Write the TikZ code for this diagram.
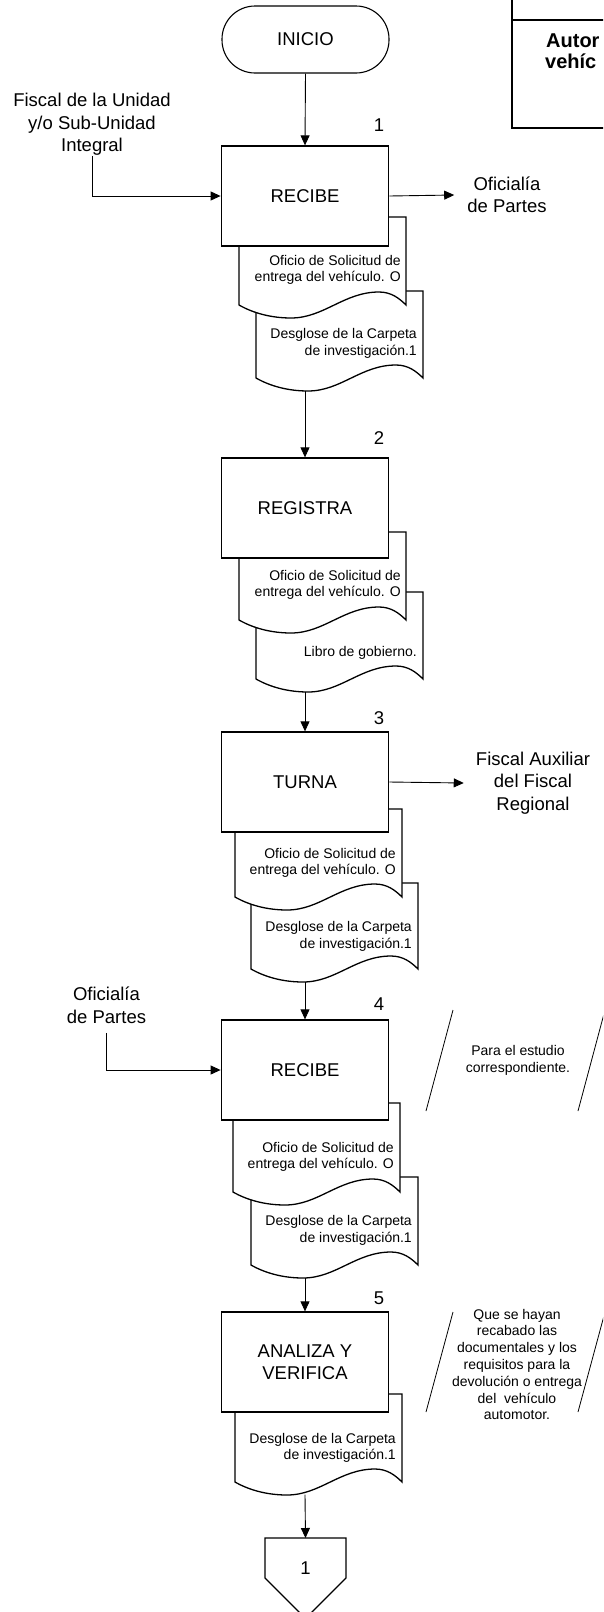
\documentclass[tikz,border=0pt]{standalone}
\usepackage{fontspec}
\setmainfont{Liberation Sans}
\usetikzlibrary{arrows.meta}

\tikzset{
  stepbox/.style={draw, line width=1.3pt, fill=white, minimum width=167.5pt,
    minimum height=100pt, inner sep=0pt, align=center,
    font=\fontsize{18.5}{22}\selectfont},
  terminal/.style={draw, line width=1.1pt, rounded corners=33pt, minimum width=167pt,
    minimum height=67pt, inner sep=0pt, font=\fontsize{18.5}{22}\selectfont},
  flow/.style={line width=0.9pt, -{Triangle[length=10pt,width=9pt]}},
  biglabel/.style={font=\fontsize{18.5}{22.5}\selectfont, align=center, inner sep=0pt},
  numlabel/.style={font=\fontsize{18.5}{22}\selectfont, inner sep=0pt},
  doctext/.style={font=\fontsize{14}{16.5}\selectfont, align=right, inner sep=0pt, anchor=east},
  notetext/.style={font=\fontsize{14}{16.8}\selectfont, align=center, inner sep=0pt},
  paper/.style={draw, line width=1.3pt, fill=white},
  slash/.style={line width=0.8pt},
  headtext/.style={font=\fontsize{20}{24}\selectfont\bfseries, inner sep=0pt, anchor=base west},
}

% document symbol: left x, top y, y of the bottom corners, name of the exit point
\newcommand{\docpaper}[4]{%
  \path[paper] (#1,#2) -- (#1+167,#2) -- (#1+167,#3)
    .. controls (#1+160,#3-7) and (#1+152,#3-13) .. (#1+140,#3-13)
    .. controls (#1+105,#3-13) and (#1+85,#3+13) .. (#1+52,#3+13)
    .. controls (#1+32,#3+13) and (#1+14,#3+8) .. (#1,#3) -- cycle;
  \coordinate (#4) at (305,#3+12.5);
}

\begin{document}
\begin{tikzpicture}[x=1pt,y=-1pt]
\useasboundingbox (0,0) rectangle (603,1612);
\clip (0,0) rectangle (603,1612);

% title block in the corner
\draw[line width=2pt] (512,-10) -- (512,128) -- (620,128);
\draw[line width=2pt] (512,19.5) -- (620,19.5);
\node[headtext] (head1) at (546,47) {Autor};
\node[headtext] (head2) at (545,68) {vehíc};

% start
\node[terminal] (inicio) at (305.5,39.5) {INICIO};

% step 1
\node[numlabel] (num1) at (379,125) {1};
\node[biglabel] (fiscal) at (92,124.5) {Fiscal de la Unidad\\y/o Sub-Unidad\\Integral};
\node[biglabel] (ofi1) at (507,195) {Oficialía\\de Partes};
\docpaper{256}{291}{378}{exit1}
\node[doctext] (t1b) at (417,343.5) {Desglose de la Carpeta\\de investigación.1};
\docpaper{239}{217}{305}{exit1a}
\node[doctext] (t1a) at (401,270) {Oficio de Solicitud de\\entrega del vehículo. O};
\node[stepbox] (b1) at (305,196) {RECIBE};

% step 2
\node[numlabel] (num2) at (379,438) {2};
\docpaper{256}{592}{679}{exit2}
\node[doctext] (t2b) at (417,653) {Libro de gobierno.};
\docpaper{239}{532}{620}{exit2a}
\node[doctext] (t2a) at (401,585) {Oficio de Solicitud de\\entrega del vehículo. O};
\node[stepbox] (b2) at (305,508) {REGISTRA};

% step 3
\node[numlabel] (num3) at (379,718) {3};
\node[biglabel] (aux) at (533,783) {Fiscal Auxiliar\\del Fiscal\\Regional};
\docpaper{251}{883}{969}{exit3}
\node[doctext] (t3b) at (412,936.5) {Desglose de la Carpeta\\de investigación.1};
\docpaper{235}{809}{897}{exit3a}
\node[doctext] (t3a) at (396,863) {Oficio de Solicitud de\\entrega del vehículo. O};
\node[stepbox] (b3) at (305,782) {TURNA};

% step 4
\node[numlabel] (num4) at (379,1004) {4};
\node[biglabel] (ofi4) at (106.5,1005.5) {Oficialía\\de Partes};
\docpaper{251}{1177}{1265}{exit4}
\node[doctext] (t4b) at (412,1230.5) {Desglose de la Carpeta\\de investigación.1};
\docpaper{233}{1103}{1192}{exit4a}
\node[doctext] (t4a) at (394,1157) {Oficio de Solicitud de\\entrega del vehículo. O};
\node[stepbox] (b4) at (305,1070) {RECIBE};
\draw[slash] (453,1010) -- (426,1111);
\draw[slash] (605,1010) -- (578,1111);
\node[notetext] (note4) at (518,1060.5) {Para el estudio\\correspondiente.};

% step 5
\node[numlabel] (num5) at (379,1298) {5};
\docpaper{235}{1394}{1482}{exit5}
\node[doctext] (t5) at (396,1448) {Desglose de la Carpeta\\de investigación.1};
\node[stepbox] (b5) at (305,1362) {ANALIZA Y\\VERIFICA};
\draw[slash] (453,1312) -- (426,1412);
\draw[slash] (605,1312) -- (578,1412);
\node[notetext] (note5) at (517,1364.5) {Que se hayan\\recabado las\\documentales y los\\requisitos para la\\devolución o entrega\\del\ \ vehículo\\automotor.};

% off-page connector
\coordinate (contop) at (305.5,1538);
\draw[line width=1.1pt, fill=white] (265,1538) -- (346,1538) -- (346,1578)
  -- (305.5,1618.5) -- (265,1578) -- cycle;
\node[numlabel] (conlabel) at (305.5,1568) {1};

% connectors
\draw[flow] (inicio.south) -- (b1.north);
\draw[flow] (fiscal.south) |- (b1.west);
\draw[flow] (b1.east) -- ([xshift=-13pt]ofi1.west);
\draw[flow] (exit1) -- (b2.north);
\draw[flow] (exit2) -- (b3.north);
\draw[flow] (b3.east) -- ([xshift=-12pt]aux.west);
\draw[flow] (exit3) -- (b4.north);
\draw[flow] ([yshift=-9pt]ofi4.south) |- (b4.west);
\draw[flow] (exit4) -- (b5.north);
\draw[flow] (exit5) -- (contop);
\end{tikzpicture}
\end{document}
